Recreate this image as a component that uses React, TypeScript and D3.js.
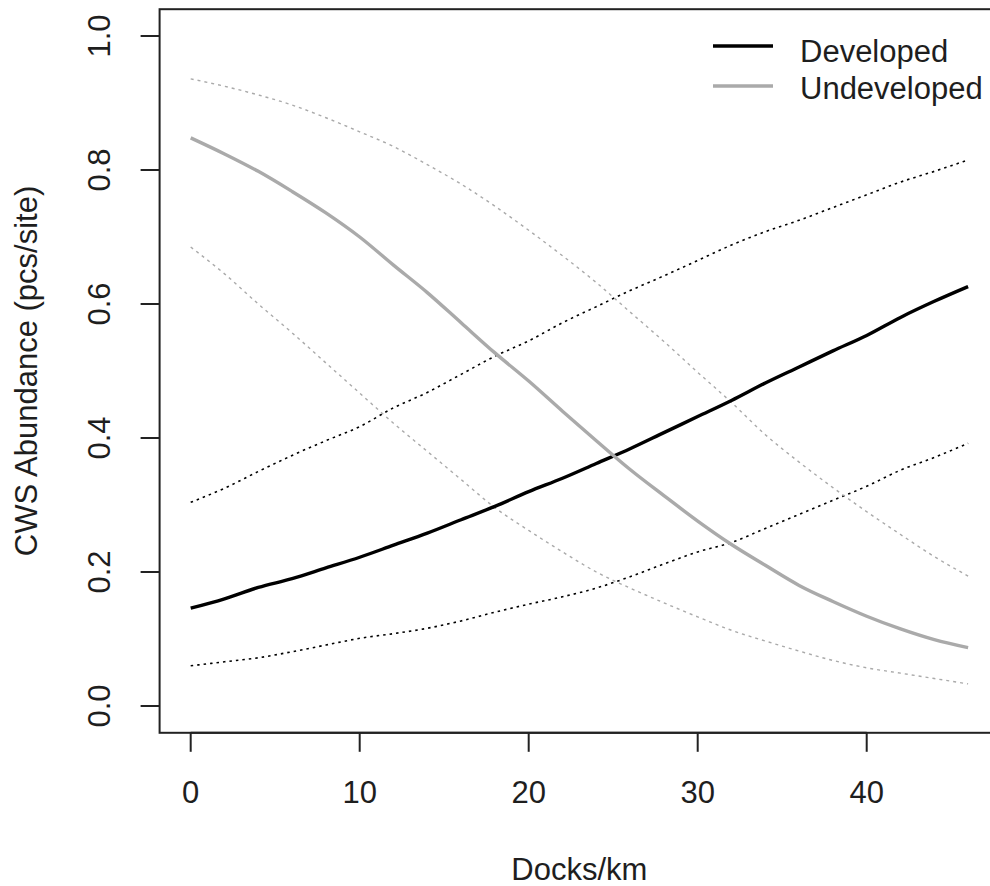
import React from 'react';
import * as d3 from 'd3';

const docks = [0, 2, 4, 6, 8, 10, 12, 14, 16, 18, 20, 22, 24, 26, 28, 30, 32, 34, 36, 38, 40, 42, 44, 46];

const developedFit = [0.146, 0.160, 0.177, 0.190, 0.206, 0.222, 0.240, 0.258, 0.278, 0.298, 0.320, 0.340, 0.362, 0.384, 0.408, 0.432, 0.456, 0.482, 0.506, 0.530, 0.553, 0.580, 0.604, 0.626];
const developedLower = [0.060, 0.066, 0.072, 0.081, 0.091, 0.101, 0.108, 0.116, 0.127, 0.140, 0.152, 0.163, 0.176, 0.193, 0.212, 0.230, 0.244, 0.265, 0.286, 0.307, 0.328, 0.352, 0.371, 0.392];
const developedUpper = [0.304, 0.325, 0.350, 0.374, 0.396, 0.417, 0.445, 0.468, 0.495, 0.522, 0.545, 0.572, 0.596, 0.620, 0.642, 0.665, 0.688, 0.708, 0.725, 0.744, 0.763, 0.782, 0.798, 0.815];

const undevelopedFit = [0.848, 0.824, 0.798, 0.768, 0.736, 0.700, 0.658, 0.617, 0.572, 0.527, 0.485, 0.440, 0.396, 0.353, 0.314, 0.276, 0.241, 0.210, 0.180, 0.156, 0.134, 0.115, 0.099, 0.087];
const undevelopedLower = [0.685, 0.645, 0.600, 0.557, 0.512, 0.467, 0.422, 0.380, 0.338, 0.296, 0.262, 0.230, 0.200, 0.176, 0.154, 0.133, 0.113, 0.097, 0.082, 0.068, 0.057, 0.049, 0.041, 0.033];
const undevelopedUpper = [0.936, 0.925, 0.912, 0.897, 0.878, 0.857, 0.835, 0.808, 0.779, 0.746, 0.710, 0.672, 0.632, 0.588, 0.544, 0.498, 0.453, 0.405, 0.364, 0.326, 0.290, 0.256, 0.223, 0.194];

const xTicks = [0, 10, 20, 30, 40];
const yTicks = [0, 0.2, 0.4, 0.6, 0.8, 1.0];
const legendLabels = ['Developed', 'Undeveloped'];
const xTitle = 'Docks/km';
const yTitle = 'CWS Abundance (pcs/site)';

const W = 990;
const H = 886;
const FONT = '"Liberation Sans", Arial, sans-serif';
const TXT = '#1e1e1e';
const GRAY = '#aaaaaa';

export default function App() {
  const x = d3.scaleLinear().domain([-1.84, 47.84]).range([159.6, 999.2]);
  const y = d3.scaleLinear().domain([-0.04, 1.04]).range([732.8, 9.2]);
  const line = (vals: number[]) =>
    d3
      .line<number>()
      .x((_, i) => x(docks[i]))
      .y((v) => y(v))
      .curve(d3.curveMonotoneX)(vals) || '';
  const fmt = d3.format('.1f');
  const [x0, x1] = x.range();
  const [yb, yt] = y.range();

  const series = [
    { d: developedLower, color: '#000', w: 1.6, dash: '2.5 4' },
    { d: developedUpper, color: '#000', w: 1.6, dash: '2.5 4' },
    { d: undevelopedLower, color: GRAY, w: 1.4, dash: '3 4' },
    { d: undevelopedUpper, color: GRAY, w: 1.4, dash: '3 4' },
    { d: developedFit, color: '#000', w: 3.4, dash: undefined },
    { d: undevelopedFit, color: GRAY, w: 3.4, dash: undefined },
  ];

  return (
    <svg
      width={W}
      height={H}
      style={{ position: 'absolute', left: 0, top: 0, background: '#fff' }}
      fontFamily={FONT}
    >
      <rect x={0} y={0} width={W} height={H} fill="#fff" />
      {series.map((s, i) => (
        <path
          key={i}
          d={line(s.d)}
          fill="none"
          stroke={s.color}
          strokeWidth={s.w}
          strokeDasharray={s.dash}
        />
      ))}
      {/* box */}
      <rect x={x0} y={yt} width={x1 - x0} height={yb - yt} fill="none" stroke="#222" strokeWidth={2} />
      {/* x axis */}
      <line x1={x(xTicks[0])} x2={x(xTicks[xTicks.length - 1])} y1={yb} y2={yb} stroke="#222" strokeWidth={2} />
      {xTicks.map((t) => (
        <g key={t}>
          <line x1={x(t)} x2={x(t)} y1={yb} y2={yb + 19} stroke="#222" strokeWidth={2} />
          <text x={x(t)} y={803} textAnchor="middle" fontSize={31} fill={TXT}>
            {t}
          </text>
        </g>
      ))}
      {/* y axis */}
      {yTicks.map((t) => (
        <g key={t}>
          <line x1={x0 - 19} x2={x0} y1={y(t)} y2={y(t)} stroke="#222" strokeWidth={2} />
          <text
            transform={`translate(110,${y(t)}) rotate(-90)`}
            textAnchor="middle"
            fontSize={31}
            fill={TXT}
          >
            {fmt(t)}
          </text>
        </g>
      ))}
      <text x={(x0 + x1) / 2} y={880} textAnchor="middle" fontSize={31} fill={TXT}>
        {xTitle}
      </text>
      <text
        transform={`translate(37,${(yt + yb) / 2}) rotate(-90)`}
        textAnchor="middle"
        fontSize={31}
        fill={TXT}
      >
        {yTitle}
      </text>
      {/* legend */}
      {legendLabels.map((lab, i) => (
        <g key={lab}>
          <line
            x1={713}
            x2={773}
            y1={46 + i * 40}
            y2={46 + i * 40}
            stroke={i === 0 ? '#000' : GRAY}
            strokeWidth={3.4}
          />
          <text x={800} y={62 + i * 37} fontSize={31} fill={TXT}>
            {lab}
          </text>
        </g>
      ))}
    </svg>
  );
}
